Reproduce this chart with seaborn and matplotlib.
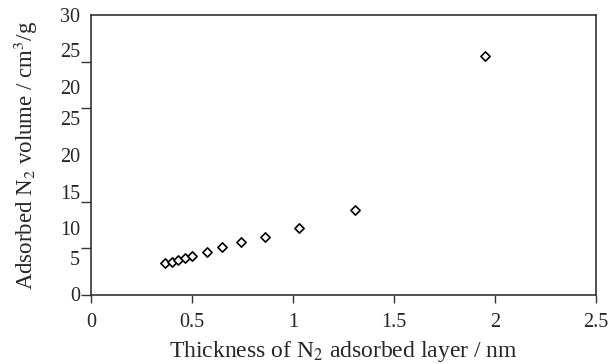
import matplotlib
matplotlib.use("Agg")
import matplotlib.pyplot as plt
import seaborn as sns
import pandas as pd

# t-plot data: thickness of adsorbed layer vs adsorbed volume
thickness_nm = [0.366, 0.401, 0.431, 0.465, 0.500, 0.574, 0.649, 0.743, 0.861, 1.03, 1.307, 1.95]
volume_cm3g = [3.43, 3.54, 3.75, 3.96, 4.18, 4.61, 5.14, 5.68, 6.21, 7.18, 9.1, 25.6]

x_ticks = [0, 0.5, 1, 1.5, 2, 2.5]
x_tick_labels = ["0", "0.5", "1", "1.5", "2", "2.5"]
y_tick_marks = [0, 5, 10, 15, 20, 25, 30]
y_label_pos = [0.1, 4.0, 7.2, 11.0, 15.0, 19.0, 22.3, 26.25, 30]
y_label_text = ["0", "5", "10", "15", "20", "25", "20", "25", "30"]

df = pd.DataFrame({"t": thickness_nm, "v": volume_cm3g})

sns.set_style("ticks")
plt.rcParams["font.family"] = ["Liberation Serif", "DejaVu Serif"]
plt.rcParams["mathtext.fontset"] = "stix"

fig = plt.figure(figsize=(6.08, 3.64), dpi=100)
ax = fig.add_axes([91 / 608, 1 - 295 / 364, (596 - 91) / 608, (295 - 15) / 364])

sns.scatterplot(data=df, x="t", y="v", ax=ax, marker="D", s=22,
                facecolor="white", edgecolor="black", linewidth=1.2, legend=False)

ax.set_xlim(0, 2.5)
ax.set_ylim(0, 30)

ax.set_xticks(x_ticks)
ax.set_xticklabels(x_tick_labels)
ax.tick_params(axis="x", direction="out", length=6, width=1, pad=7, labelsize=14.5, color="#333333")

ax.set_yticks(y_label_pos)
ax.set_yticklabels(y_label_text)
ax.set_yticks(y_tick_marks, minor=True)
ax.tick_params(axis="y", which="major", length=0, pad=8, labelsize=14.5)
ax.tick_params(axis="y", which="minor", direction="out", length=7, width=1, color="#333333")

for side in ["left", "right", "top", "bottom"]:
    ax.spines[side].set_visible(True)
    ax.spines[side].set_color("#333333")
    ax.spines[side].set_linewidth(1.2)

ax.set_xlabel("Thickness of N$_2$ adsorbed layer / nm", fontsize=17, labelpad=5)
ax.set_ylabel("Adsorbed N$_2$ volume / cm$^3$/g", fontsize=16.5, labelpad=14)

fig.savefig("out.png", dpi=100)
